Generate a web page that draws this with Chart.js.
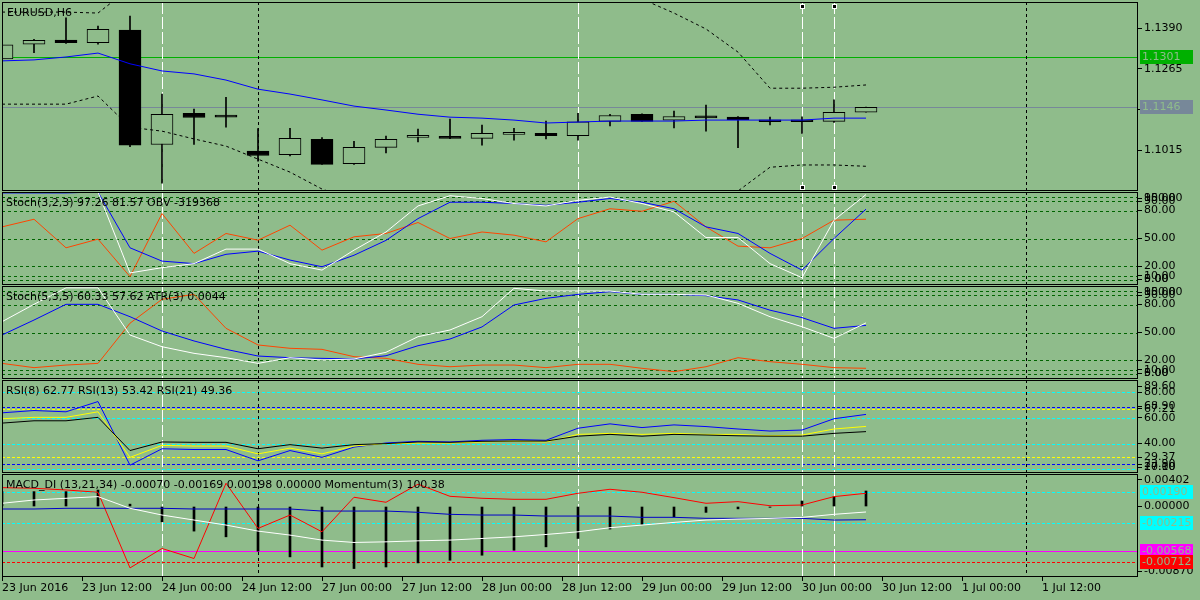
<!DOCTYPE html>
<html>
<head>
<meta charset="utf-8">
<title>EURUSD,H6</title>
<script src="https://cdn.jsdelivr.net/npm/chart.js@4.4.1/dist/chart.umd.min.js"></script>
<style>
  body { margin: 0; background: #8fbc8b; }
  #wrap { position: relative; width: 1200px; height: 600px; overflow: hidden; }
  #wrap canvas { position: absolute; left: 0; }
</style>
</head>
<body>
<div id="wrap"></div>
<script>
const BG = '#8fbc8b';

// EURUSD H6 candles, one per bar
const opens  = [1.1295, 1.1340, 1.1353, 1.1345, 1.1384, 1.1032, 1.1128, 1.1119, 1.1012, 1.1001, 1.1048, 1.0973, 1.1023, 1.1054,
                1.1056, 1.1051, 1.1063, 1.1066, 1.1059, 1.1103, 1.1125, 1.1107, 1.1118, 1.1116, 1.1104, 1.1103, 1.1103, 1.1131];
const highs  = [1.1340, 1.1355, 1.1421, 1.1396, 1.1427, 1.1187, 1.1141, 1.1177, 1.1081, 1.1082, 1.1053, 1.1042, 1.1058, 1.1079,
                1.1110, 1.1092, 1.1082, 1.1104, 1.1128, 1.1125, 1.1126, 1.1135, 1.1153, 1.1118, 1.1116, 1.1117, 1.1169, 1.1147];
const lows   = [1.1293, 1.1314, 1.1343, 1.1340, 1.1025, 1.0913, 1.1032, 1.1085, 1.0981, 1.0997, 1.0971, 1.0971, 1.1006, 1.1040,
                1.1050, 1.1030, 1.1045, 1.1049, 1.1045, 1.1089, 1.1103, 1.1083, 1.1073, 1.1022, 1.1092, 1.1066, 1.1100, 1.1131];
const closes = [1.1338, 1.1352, 1.1345, 1.1386, 1.1030, 1.1125, 1.1115, 1.1116, 1.0998, 1.1051, 1.0971, 1.1023, 1.1048, 1.1056,
                1.1051, 1.1066, 1.1063, 1.1059, 1.1102, 1.1121, 1.1103, 1.1118, 1.1114, 1.1108, 1.1102, 1.1102, 1.1131, 1.1146];
const maLine = [1.1289, 1.1292, 1.1301, 1.1313, 1.1280, 1.1258, 1.1249, 1.1230, 1.1202, 1.1187, 1.1169, 1.1150, 1.1138, 1.1125,
                1.1116, 1.1113, 1.1107, 1.1098, 1.1101, 1.1104, 1.1104, 1.1104, 1.1107, 1.1107, 1.1107, 1.1107, 1.1113, 1.1113];
const bandUp = [1.1439, 1.1439, 1.1439, 1.1436, 1.1513, 1.1553, 1.1575, 1.1587, 1.1593, 1.1593, 1.1590, 1.1584, 1.1575, 1.1565,
                1.1553, 1.1541, 1.1529, 1.1516, 1.1504, 1.1492, 1.1479, 1.1436, 1.1387, 1.1316, 1.1205, 1.1205, 1.1208, 1.1215];
const bandDn = [1.1156, 1.1156, 1.1156, 1.1181, 1.1085, 1.1073, 1.1049, 1.1027, 1.0987, 1.0947, 1.0895, 1.0861, 1.0830, 1.0815,
                1.0805, 1.0799, 1.0799, 1.0805, 1.0815, 1.0824, 1.0836, 1.0852, 1.0867, 1.0889, 1.0962, 1.0969, 1.0969, 1.0965];
const priceMarks = [1.1301, 1.1146];
const priceTicks = [1.1390, 1.1265, 1.1140, 1.1015];

// Stoch(3,2,3) + OBV
const st1Main = [100, 100, 100, 100, 13, 18.6, 23, 38.6, 38.6, 23, 16, 37.5, 57, 85,
                 96, 93, 87.6, 85, 91, 94.6, 87.6, 78.6, 51, 51, 23, 7.9, 69.7, 97.26];
const st1Sig  = [99, 99, 99, 100, 40, 25.7, 23, 33, 36.4, 26.8, 19.6, 32, 48, 71.4,
                 89, 89, 87.6, 85.7, 89, 93, 89, 82, 62.5, 55.4, 34, 16, 50, 81.57];
const obvLine = [62.5, 70.7, 40, 49.3, 9, 76.8, 34, 55.4, 48.2, 64.3, 37.5, 51.8, 55.4, 67.2,
                 50, 57, 53.6, 46.4, 71.4, 82, 79.3, 90, 62.5, 41.8, 40, 50, 69.7, 70.7];

// Stoch(5,3,5) + ATR
const st2Main = [61.6, 80.3, 98, 98, 47.3, 34.7, 27.6, 22.9, 16.8, 22.9, 20.4, 21.5, 28.7, 45.5,
                 52.7, 67, 97.5, 94.6, 94.6, 94.6, 91, 91, 90.3, 81.4, 67, 56.2, 43.7, 60.33];
const st2Sig  = [47.3, 63.4, 80.3, 80.3, 67, 51.6, 40.9, 31.9, 24.7, 22.9, 22.2, 21.5, 25, 35.8,
                 43, 56, 79.6, 86.7, 91, 93.9, 91, 91, 89.6, 85, 74, 66, 54.5, 57.62];
const atrLine = [16.8, 12.2, 15, 16.8, 60, 85.7, 91, 54.5, 36.6, 33, 31.9, 24, 22.2, 15.8,
                 13.2, 15, 15, 12.2, 15.8, 15.8, 11.5, 7.9, 13.2, 22.9, 18.6, 15.8, 12.2, 11.5];
const stochLevels = [95, 90, 80, 50, 20, 10, 5];
const stochTicks = [100, 95, 90, 80, 50, 20, 10, 5, 0];

// RSI 8 / 13 / 21
const rsi8  = [64, 65.8, 64.8, 72.8, 23.2, 36, 35.4, 35.4, 26.6, 34.6, 29.3, 37.3, 40.5, 41.8,
               41.3, 42.6, 43.2, 42.6, 52, 55.4, 52.5, 54.6, 53.3, 51.4, 49.8, 50.6, 59.4, 62.77];
const rsi13 = [59.4, 60.5, 60.5, 64.8, 29.3, 38.6, 38.1, 38.1, 32, 36.5, 32, 38.1, 40, 40.5,
               40.5, 41.3, 41.8, 41.3, 47.2, 48, 47.2, 48, 47.2, 47.2, 46.1, 46.7, 51.4, 53.42];
const rsi21 = [56, 57.8, 57.8, 60.5, 34.6, 41.3, 41, 41, 36, 39.2, 36.5, 39.2, 40, 41.3,
               41, 41.8, 42, 42, 45.8, 47.2, 45.8, 47.2, 46.7, 46.1, 45.8, 45.8, 48, 49.36];
const rsiLevels = [80, 60, 40, 20];
const rsi8Levels = [68.9, 23.9];
const rsi13Levels = [67.21, 29.37];
const rsiTicks = [89.6, 80, 68.9, 67.21, 60, 40, 29.37, 23.9, 20, 17.1];

// MACD_DI (13,21,34) + Momentum(3)
const macdHist = [0.0019, 0.0019, 0.0019, 0.0021, 0.0003, -0.00195, -0.00314, -0.00387, -0.0057, -0.00643, -0.00772, -0.00792, -0.00772, -0.0072,
                  -0.00686, -0.00622, -0.00558, -0.00515, -0.00408, -0.00288, -0.00228, -0.0013, -0.00075, -0.0003, -0.0001, 0.0007, 0.00125, 0.00198];
const macdMain = [0.00041, 0.00083, 0.00105, 0.00126, -0.00023, -0.00109, -0.00173, -0.00237, -0.00314, -0.00365, -0.00429, -0.00459, -0.00451, -0.00438,
                  -0.00429, -0.00408, -0.00387, -0.00357, -0.00323, -0.00271, -0.00237, -0.00203, -0.00173, -0.0016, -0.00152, -0.00139, -0.001, -0.0007];
const macdSig  = [-0.00032, -0.00032, -0.00023, -0.00023, -0.00023, -0.00023, -0.00032, -0.00032, -0.00032, -0.00032, -0.00058, -0.00058, -0.00058, -0.00074,
                  -0.001, -0.00109, -0.00109, -0.00122, -0.00122, -0.00122, -0.00138, -0.00138, -0.00151, -0.00151, -0.00151, -0.00151, -0.00173, -0.00169];
const momLine  = [0.00241, 0.00233, 0.00211, 0.00182, -0.00784, -0.00536, -0.00664, 0.00297, -0.0028, -0.00109, -0.00323, 0.00118, 0.00054, 0.00285,
                  0.0013, 0.00105, 0.00092, 0.00092, 0.00169, 0.0022, 0.00182, 0.00113, 0.00041, 0.00062, 0.0001, 0.00019, 0.00126, 0.00169];
const macdLevels = [0.0019, -0.00215];
const macdLow = -0.00568;
const momLow = -0.00712;
const macdTicks = [0.00402, 0, -0.0087];

// time axis (bar units) and vertical marker lines
const timeTickAt = [0, 2.5, 5, 7.5, 10, 12.5, 15, 17.5, 20, 22.5, 25, 27.5, 30, 32.5];
const timeTickText = ['23 Jun 2016', '23 Jun 12:00', '24 Jun 00:00', '24 Jun 12:00', '27 Jun 00:00', '27 Jun 12:00', '28 Jun 00:00',
                      '28 Jun 12:00', '29 Jun 00:00', '29 Jun 12:00', '30 Jun 00:00', '30 Jun 12:00', '1 Jul 00:00', '1 Jul 12:00'];
const whiteMarks = [5, 18, 25, 26];
const blackMarks = [8, 32];
const selectedMarks = [25, 26];

Chart.defaults.font.family = 'DejaVu Sans';
Chart.defaults.font.size = 11;
Chart.defaults.color = '#000';

const X_MAX = 35.5;   // bars visible across the plot width
const M = 12;         // canvas margin around each panel frame

const pts = arr => arr.map((v, i) => ({ x: i, y: v }));
const line = (arr, color, extra) => Object.assign({
  type: 'line', data: pts(arr), borderColor: color, borderWidth: 1,
  pointRadius: 0, tension: 0, fill: false, order: 0
}, extra || {});
const lvl = (vals, color, dash) => vals.map(v => ({ value: v, color, dash }));

// panel frame, titles, level lines, markers and value boxes
const mtPanel = {
  id: 'mtPanel',
  beforeDatasetsDraw(chart, args, o) {
    const { ctx, chartArea: a, scales: { x, y } } = chart;
    ctx.save();
    ctx.beginPath();
    ctx.rect(a.left, a.top, a.right - a.left, a.bottom - a.top);
    ctx.clip();
    ctx.lineWidth = 1;
    (o.levels || []).forEach(l => {
      const py = Math.round(y.getPixelForValue(l.value)) + 0.5;
      ctx.strokeStyle = l.color;
      ctx.setLineDash(l.dash || []);
      ctx.beginPath(); ctx.moveTo(a.left, py); ctx.lineTo(a.right, py); ctx.stroke();
    });
    const vline = (idx, color, dash) => {
      const px = Math.round(x.getPixelForValue(idx)) + 0.5;
      ctx.strokeStyle = color;
      ctx.setLineDash(dash);
      ctx.beginPath(); ctx.moveTo(px, a.top); ctx.lineTo(px, a.bottom); ctx.stroke();
    };
    blackMarks.forEach(i => vline(i, '#000', [3, 3]));
    whiteMarks.forEach(i => vline(i, '#fff', [12, 3]));
    ctx.restore();
  },
  afterDraw(chart, args, o) {
    const { ctx, chartArea: a, scales: { x, y } } = chart;
    ctx.save();
    ctx.setLineDash([]);
    ctx.strokeStyle = '#000';
    ctx.lineWidth = 1;
    ctx.strokeRect(a.left + 0.5, a.top + 0.5, a.right - a.left - 1, a.bottom - a.top - 1);

    ctx.font = '11px "DejaVu Sans"';
    ctx.textBaseline = 'middle';
    ctx.fillStyle = '#000';
    ctx.fillText(o.title, a.left + o.titleX, a.top + 11);

    (o.boxes || []).forEach(b => {
      const py = Math.round(y.getPixelForValue(b.value));
      ctx.fillStyle = b.color;
      ctx.fillRect(a.right + 2, py - 7, 53, 14);
      ctx.fillStyle = BG;
      ctx.fillText(b.text, a.right + 4, py + 0.5);
    });

    if (o.handles) {
      selectedMarks.forEach(i => {
        const px = Math.round(x.getPixelForValue(i));
        [a.top + 3, a.bottom - 5].forEach(py => {
          ctx.fillStyle = '#fff';
          ctx.fillRect(px - 2, py - 1, 5, 5);
          ctx.fillStyle = '#000';
          ctx.fillRect(px - 1, py, 3, 3);
        });
      });
    }
    ctx.restore();
  }
};

function panel(frameTop, frameBottom, datasets, yAxis, deco, withTime) {
  const c = document.createElement('canvas');
  const top = frameTop - M;
  const h = withTime ? 600 - top : frameBottom - frameTop + 2 * M;
  c.width = 1200;
  c.height = h;
  c.style.top = top + 'px';
  document.getElementById('wrap').appendChild(c);
  const panelH = frameBottom - frameTop;

  return new Chart(c, {
    type: 'line',
    data: { datasets },
    options: {
      responsive: false,
      animation: false,
      events: [],
      layout: { padding: { left: 2, right: 0, top: M, bottom: withTime ? 0 : M } },
      plugins: { legend: { display: false }, tooltip: { enabled: false }, mtPanel: deco },
      scales: {
        x: {
          type: 'linear', min: 0, max: X_MAX, offset: false, bounds: 'data',
          display: withTime,
          grid: { offset: false, drawOnChartArea: false, drawTicks: true, tickLength: 4, color: '#000' },
          border: { display: false },
          afterBuildTicks: s => { s.ticks = timeTickAt.map(v => ({ value: v })); },
          afterFit: s => { s.height = withTime ? 23 : 0; },
          ticks: { autoSkip: false, maxRotation: 0, align: 'start', padding: 1, callback: (v, i) => timeTickText[i] }
        },
        y: {
          type: 'linear', position: 'right', min: yAxis.min, max: yAxis.max, bounds: 'data',
          grid: { drawOnChartArea: false, drawTicks: true, tickLength: 4, color: '#000' },
          border: { display: false },
          afterBuildTicks: s => {
            const inset = 6 * (yAxis.max - yAxis.min) / panelH;
            s.ticks = yAxis.ticks.map(v => ({ value: Math.max(Math.min(v, yAxis.max - inset), yAxis.min + inset) }));
          },
          afterFit: s => { s.width = 62; },
          ticks: { autoSkip: false, padding: 2, callback: (v, i) => yAxis.ticks[i].toFixed(yAxis.dp) }
        }
      }
    },
    plugins: [mtPanel]
  });
}

// price panel
panel(2, 191, [
  line(maLine, '#0000ff'),
  line(bandUp, '#000', { borderDash: [3, 3] }),
  line(bandDn, '#000', { borderDash: [3, 3] }),
  {
    type: 'bar', grouped: false, order: 1,
    data: opens.map((o, i) => ({ x: i, y: [o, closes[i]] })),
    backgroundColor: opens.map((o, i) => closes[i] >= o ? BG : '#000'),
    borderColor: '#000', borderWidth: 1, borderSkipped: false,
    barThickness: 22, minBarLength: 2
  },
  {
    type: 'bar', grouped: false, order: 2,
    data: lows.map((l, i) => ({ x: i, y: [l, highs[i]] })),
    backgroundColor: '#000', barThickness: 1
  }
], { min: 1.0889, max: 1.1470, ticks: priceTicks, dp: 4 }, {
  title: 'EURUSD,H6', titleX: 5,
  levels: [
    { value: priceMarks[0], color: '#00b000' },
    { value: priceMarks[1], color: '#778899' }
  ],
  boxes: [
    { value: priceMarks[0], text: priceMarks[0].toFixed(4), color: '#00b000' },
    { value: priceMarks[1], text: priceMarks[1].toFixed(4), color: '#778899' }
  ],
  handles: true
}, false);

// Stoch(3,2,3) panel
panel(192, 285, [
  line(st1Main, '#ffffff'),
  line(st1Sig, '#0000ff'),
  line(obvLine, '#ff4500')
], { min: 0, max: 100, ticks: stochTicks, dp: 2 }, {
  title: 'Stoch(3,2,3) 97.26 81.57 OBV -319368', titleX: 4,
  levels: lvl(stochLevels, '#006400', [3, 3])
}, false);

// Stoch(5,3,5) panel
panel(286, 379, [
  line(st2Main, '#ffffff'),
  line(st2Sig, '#0000ff'),
  line(atrLine, '#ff4500')
], { min: 0, max: 100, ticks: stochTicks, dp: 2 }, {
  title: 'Stoch(5,3,5) 60.33 57.62 ATR(3) 0.0044', titleX: 4,
  levels: lvl(stochLevels, '#006400', [3, 3])
}, false);

// RSI panel
panel(380, 473, [
  line(rsi21, '#000000'),
  line(rsi13, '#ffff00'),
  line(rsi8, '#0000ff')
], { min: 17.1, max: 89.6, ticks: rsiTicks, dp: 2 }, {
  title: 'RSI(8) 62.77 RSI(13) 53.42 RSI(21) 49.36', titleX: 4,
  levels: [].concat(lvl(rsiLevels, '#00ffff', [3, 2]), lvl(rsi13Levels, '#ffff00', [3, 2]), lvl(rsi8Levels, '#0000ff', [3, 2]))
}, false);

// MACD_DI + Momentum panel with the time axis
panel(474, 577, [
  line(macdMain, '#ffffff'),
  line(macdSig, '#0000c8'),
  line(momLine, '#ff0000'),
  { type: 'bar', grouped: false, order: 1, data: pts(macdHist), backgroundColor: '#000', barThickness: 2 }
], { min: -0.0090, max: 0.00415, ticks: macdTicks, dp: 5 }, {
  title: 'MACD_DI (13,21,34) -0.00070 -0.00169 0.00198 0.00000 Momentum(3) 100.38', titleX: 4,
  levels: [].concat(lvl(macdLevels, '#00ffff', [3, 2]), lvl([macdLow], '#ff00ff'), lvl([momLow], '#ff0000', [3, 2])),
  boxes: [
    { value: macdLevels[0], text: macdLevels[0].toFixed(5), color: '#00ffff' },
    { value: macdLevels[1], text: macdLevels[1].toFixed(5), color: '#00ffff' },
    { value: macdLow, text: macdLow.toFixed(5), color: '#ff00ff' },
    { value: momLow, text: momLow.toFixed(5), color: '#ff0000' }
  ]
}, true);
</script>
</body>
</html>
